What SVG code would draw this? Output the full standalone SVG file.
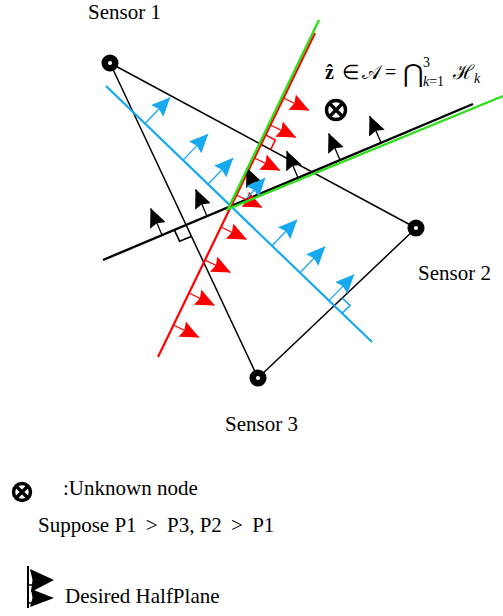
<svg xmlns="http://www.w3.org/2000/svg" width="503" height="616" viewBox="0 0 503 616">
<style>
text{font-family:"Liberation Serif","Times New Roman",serif;fill:#000}
.lbl{font-size:21px}
.edge{stroke:#000;stroke-width:1.5;fill:none}
.blk{stroke:#000;stroke-width:2.4;fill:none}
.blu{stroke:#16a9ef;stroke-width:2.2;fill:none}
.red{stroke:#f00;stroke-width:2.2;fill:none}
.grn{stroke:#2ee01a;stroke-width:2.4;fill:none}
.ab{stroke:#16a9ef;stroke-width:1.3;marker-end:url(#mb)}
.ar{stroke:#f00;stroke-width:1.3;marker-end:url(#mr)}
.ak{stroke:#000;stroke-width:1.3;marker-end:url(#mk)}
.ra{fill:none;stroke-width:1.6}
.ring{fill:#fff;stroke:#000;stroke-width:6.5}
.otimes{fill:none;stroke:#000;stroke-width:3.4}
</style>
<defs>
<marker id="mb" markerUnits="userSpaceOnUse" viewBox="0 0 19 17" markerWidth="19" markerHeight="17" refX="18.5" refY="8.5" orient="auto"><path d="M0,0 L19,8.5 L0,17 L2.5,8.5 z" fill="#16a9ef"/></marker>
<marker id="mr" markerUnits="userSpaceOnUse" viewBox="0 0 19 17" markerWidth="19" markerHeight="17" refX="18.5" refY="8.5" orient="auto"><path d="M0,0 L19,8.5 L0,17 L2.5,8.5 z" fill="#f00"/></marker>
<marker id="mk" markerUnits="userSpaceOnUse" viewBox="0 0 19 17" markerWidth="19" markerHeight="17" refX="18.5" refY="8.5" orient="auto"><path d="M0,0 L19,8.5 L0,17 L2.5,8.5 z" fill="#000"/></marker>
</defs>

<g id="connectors">
  <line class="edge" x1="110" y1="63" x2="416" y2="228"/>
  <line class="edge" x1="110" y1="63" x2="258" y2="378"/>
  <line class="edge" x1="416" y1="228" x2="258" y2="378"/>
  <line class="blu" x1="106" y1="86" x2="372" y2="342"/>
  <line class="blk" x1="103" y1="260" x2="473" y2="104"/>
  <line class="red" x1="158" y1="357" x2="315" y2="33"/>
  <polyline class="ra" stroke="#000" points="174.5,230.3 179.6,241.2 191.2,236.4"/>
  <polyline class="ra" stroke="#f00" points="265.6,134.9 275.3,140.1 270.5,150"/>
  <polyline class="ra" stroke="#16a9ef" points="342.2,298 350.1,305.6 342.1,313.2"/>
  <line class="ab" x1="145" y1="123.5" x2="170" y2="97.5"/>
  <line class="ab" x1="183" y1="160.1" x2="208" y2="134.1"/>
  <line class="ab" x1="208" y1="184.2" x2="233" y2="158.2"/>
  <line class="ab" x1="272" y1="245.8" x2="297" y2="219.8"/>
  <line class="ab" x1="300" y1="272.7" x2="325" y2="246.7"/>
  <line class="ab" x1="329" y1="300.6" x2="354" y2="274.6"/>
  <line class="ar" x1="283.5" y1="98" x2="308.8" y2="110.3"/>
  <line class="ar" x1="270.4" y1="125" x2="295.7" y2="137.3"/>
  <line class="ar" x1="254.4" y1="158" x2="279.7" y2="170.3"/>
  <line class="ar" x1="236.5" y1="195" x2="261.8" y2="207.3"/>
  <line class="ar" x1="221" y1="227" x2="246.3" y2="239.3"/>
  <line class="ar" x1="205" y1="260" x2="230.3" y2="272.3"/>
  <line class="ar" x1="189" y1="293" x2="214.3" y2="305.3"/>
  <line class="ar" x1="173.5" y1="325" x2="198.8" y2="337.3"/>
  <line class="ak" x1="162" y1="235.1" x2="150.7" y2="208.4"/>
  <line class="ak" x1="207" y1="216.2" x2="195.7" y2="189.5"/>
  <line class="ak" x1="258" y1="194.6" x2="246.7" y2="167.9"/>
  <line class="ak" x1="298" y1="177.8" x2="286.7" y2="151.1"/>
  <line class="ak" x1="340" y1="160.1" x2="328.7" y2="133.4"/>
  <line class="ak" x1="381" y1="142.8" x2="369.7" y2="116.1"/>
  <line class="ab" x1="247" y1="198" x2="265" y2="178"/>
  <polyline class="grn" points="319,20 228,209 503,96"/>
</g>

<g id="sensor1"><circle class="ring" cx="110" cy="63" r="5.3"/><text class="lbl" x="88" y="19" font-size="20">Sensor 1</text></g>
<g id="sensor2"><circle class="ring" cx="416" cy="228" r="5.3"/><text class="lbl" x="418" y="280">Sensor 2</text></g>
<g id="sensor3"><circle class="ring" cx="258" cy="378" r="5.3"/><text class="lbl" x="225" y="431">Sensor 3</text></g>

<g id="unknown">
  <circle class="otimes" cx="336" cy="110" r="9.5"/>
  <path class="otimes" d="M329.3,103.3 L342.7,116.7 M342.7,103.3 L329.3,116.7"/>
</g>

<g id="formula" font-size="20">
  <text x="325" y="79" font-weight="bold">ẑ</text>
  <text x="342" y="79">∈</text>
  <text x="362" y="79" font-family="'DejaVu Serif',serif">𝒜</text>
  <text x="385" y="79">=</text>
  <text x="403" y="82" font-family="'DejaVu Sans',sans-serif" font-size="25">⋂</text>
  <text x="423" y="67" font-size="14">3</text>
  <text x="423" y="86" font-size="14"><tspan font-style="italic">k</tspan>=1</text>
  <text x="453" y="79" font-family="'DejaVu Serif',serif">ℋ</text>
  <text x="474" y="83" font-size="14" font-style="italic">k</text>
</g>

<g id="legend">
  <circle class="otimes" cx="22" cy="492" r="8.5"/>
  <path class="otimes" d="M16,486 L28,498 M28,486 L16,498"/>
  <text class="lbl" x="63" y="495">:Unknown node</text>
  <text class="lbl" x="38" y="532">Suppose P1 <tspan dx="4">&gt;</tspan> <tspan dx="4">P3,</tspan> P2 <tspan dx="4">&gt;</tspan> <tspan dx="4">P1</tspan></text>
  <line x1="28" y1="566" x2="28" y2="608" stroke="#000" stroke-width="2"/>
  <path d="M28,585 H33 M28,603 H33" stroke="#000" stroke-width="1.5"/>
  <path d="M30,569 L54,580 L31,592 L32.5,580 z" fill="#000"/>
  <path d="M31,589 L54,598 L30,607 L32.5,598 z" fill="#000"/>
  <text class="lbl" x="65" y="603">Desired HalfPlane</text>
</g>
</svg>
